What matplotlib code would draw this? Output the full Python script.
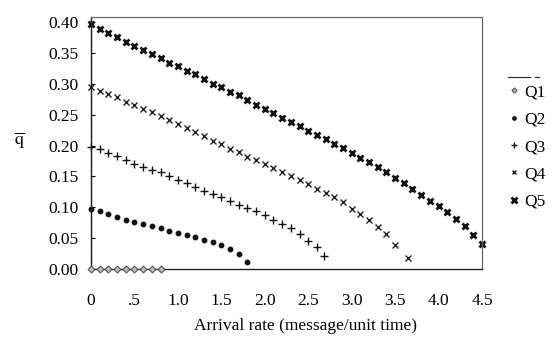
import matplotlib
matplotlib.use("Agg")
import matplotlib.pyplot as plt
from matplotlib.lines import Line2D

plt.rcParams['font.family'] = ['Liberation Serif', 'DejaVu Serif']
plt.rcParams['mathtext.fontset'] = 'stix'

# Data
q1_x = [0.0, 0.1, 0.2, 0.3, 0.4, 0.5, 0.6, 0.7, 0.8]
q1_y = [0.0, 0.0, 0.0, 0.0, 0.0, 0.0, 0.0, 0.0, 0.0]

q2_x = [0.0, 0.1, 0.2, 0.3, 0.4, 0.5, 0.6, 0.7, 0.8, 0.9, 1.0, 1.1, 1.2, 1.3,
        1.4, 1.5, 1.6, 1.7, 1.8]
q2_y = [0.098, 0.094, 0.090, 0.085, 0.080, 0.076, 0.073, 0.070, 0.066, 0.062,
        0.059, 0.055, 0.052, 0.048, 0.044, 0.039, 0.032, 0.025, 0.011]

q3_x = [0.0, 0.1, 0.2, 0.3, 0.4, 0.5, 0.6, 0.7, 0.8, 0.9, 1.0, 1.1, 1.2, 1.3,
        1.4, 1.5, 1.6, 1.7, 1.8, 1.9, 2.0, 2.1, 2.2, 2.3, 2.4, 2.5, 2.6, 2.68]
q3_y = [0.198, 0.194, 0.188, 0.183, 0.177, 0.170, 0.165, 0.160, 0.157, 0.151,
        0.145, 0.139, 0.133, 0.127, 0.121, 0.116, 0.110, 0.104, 0.099, 0.094,
        0.087, 0.080, 0.073, 0.066, 0.057, 0.046, 0.036, 0.021]

q4_x = [0.0, 0.1, 0.2, 0.3, 0.4, 0.5, 0.6, 0.7, 0.8, 0.9, 1.0, 1.1, 1.2, 1.3,
        1.4, 1.5, 1.6, 1.7, 1.8, 1.9, 2.0, 2.1, 2.2, 2.3, 2.4, 2.5, 2.6, 2.7,
        2.8, 2.9, 3.0, 3.1, 3.2, 3.3, 3.4, 3.5, 3.65]
q4_y = [0.295, 0.288, 0.283, 0.278, 0.271, 0.265, 0.259, 0.254, 0.248, 0.241,
        0.235, 0.228, 0.222, 0.215, 0.208, 0.202, 0.195, 0.189, 0.182, 0.176,
        0.170, 0.163, 0.157, 0.151, 0.144, 0.137, 0.130, 0.123, 0.116, 0.108,
        0.097, 0.089, 0.080, 0.069, 0.057, 0.040, 0.018]

q5_x = [0.0, 0.1, 0.2, 0.3, 0.4, 0.5, 0.6, 0.7, 0.8, 0.9, 1.0, 1.1, 1.2, 1.3,
        1.4, 1.5, 1.6, 1.7, 1.8, 1.9, 2.0, 2.1, 2.2, 2.3, 2.4, 2.5, 2.6, 2.7,
        2.8, 2.9, 3.0, 3.1, 3.2, 3.3, 3.4, 3.5, 3.6, 3.7, 3.8, 3.9, 4.0, 4.1,
        4.2, 4.3, 4.4, 4.5]
q5_y = [0.397, 0.389, 0.382, 0.376, 0.368, 0.361, 0.355, 0.348, 0.341, 0.334,
        0.328, 0.321, 0.315, 0.308, 0.300, 0.294, 0.286, 0.281, 0.273, 0.266,
        0.259, 0.252, 0.245, 0.238, 0.231, 0.224, 0.217, 0.210, 0.203, 0.196,
        0.188, 0.180, 0.173, 0.165, 0.157, 0.148, 0.140, 0.130, 0.120, 0.111,
        0.103, 0.093, 0.081, 0.070, 0.055, 0.041]

labels = ['Q1', 'Q2', 'Q3', 'Q4', 'Q5']
xticks = [0, 0.5, 1.0, 1.5, 2.0, 2.5, 3.0, 3.5, 4.0, 4.5]
xticklabels = ['0', '.5', '1.0', '1.5', '2.0', '2.5', '3.0', '3.5', '4.0', '4.5']
yticks = [0.00, 0.05, 0.10, 0.15, 0.20, 0.25, 0.30, 0.35, 0.40]

fig = plt.figure(figsize=(5.53, 3.41), dpi=100)
ax = fig.add_axes([91/553, 1-269.3/341, (482-91)/553, (269.3-17)/341])

ax.plot(q1_x, q1_y, linestyle='none', marker='D', ms=3.5, mfc='#bbbbbb',
        mec='#555555', mew=0.8, label=labels[0], zorder=4, clip_on=False)
ax.plot(q2_x, q2_y, linestyle='none', marker='o', ms=3.2, color='#111111',
        label=labels[1], clip_on=False)
ax.plot(q3_x, q3_y, linestyle='none', marker='+', ms=6, mew=1.0,
        color='#111111', label=labels[2], clip_on=False)
ax.plot(q4_x, q4_y, linestyle='none', marker='x', ms=4.5, mew=1.0,
        color='#222222', label=labels[3], clip_on=False)
ax.plot(q5_x, q5_y, linestyle='none', marker='x', ms=5, mew=2.0,
        color='#111111', label=labels[4], clip_on=False)

ax.set_xlim(0, 4.5)
ax.set_ylim(0, 0.4076)
ax.set_xticks(xticks)
ax.set_xticklabels(xticklabels)
ax.set_yticks(yticks)
ax.set_yticklabels([f'{v:.2f}' for v in yticks])
ax.tick_params(axis='x', length=0, pad=17, labelsize=12.5)
ax.tick_params(axis='y', direction='in', length=3, width=0.8, pad=9,
               labelsize=12.5)

for side in ['top', 'right']:
    ax.spines[side].set_linestyle((0, (1, 1)))
    ax.spines[side].set_color('#666666')
    ax.spines[side].set_linewidth(0.9)
ax.spines['left'].set_linestyle((0, (1, 0.6)))
ax.spines['left'].set_color('#222222')
ax.spines['left'].set_linewidth(1.0)
ax.spines['bottom'].set_linestyle((0, (3, 1)))
ax.spines['bottom'].set_color('#222222')
ax.spines['bottom'].set_linewidth(1.0)

fig.text(305/553, 1-326/341, 'Arrival rate (message/unit time)',
         ha='center', va='center', fontsize=12.5)
fig.text(20/553, 1-140/341, r'$\overline{\mathrm{q}}$', ha='center',
         va='center', fontsize=13)

leg = ax.legend(loc='upper left', bbox_to_anchor=(509/553, 1-84/341),
                bbox_transform=fig.transFigure, frameon=False, fontsize=12.5,
                handlelength=0.6, handletextpad=0.3, labelspacing=0.65,
                borderaxespad=0, borderpad=0, markerscale=0.75)
fig.add_artist(Line2D([508/553, 530/553], [1-77/341, 1-77/341],
                      color='#333333', lw=0.9))
fig.add_artist(Line2D([535/553, 539/553], [1-77/341, 1-77/341],
                      color='#333333', lw=0.9))

fig.savefig('out.png', dpi=100)
